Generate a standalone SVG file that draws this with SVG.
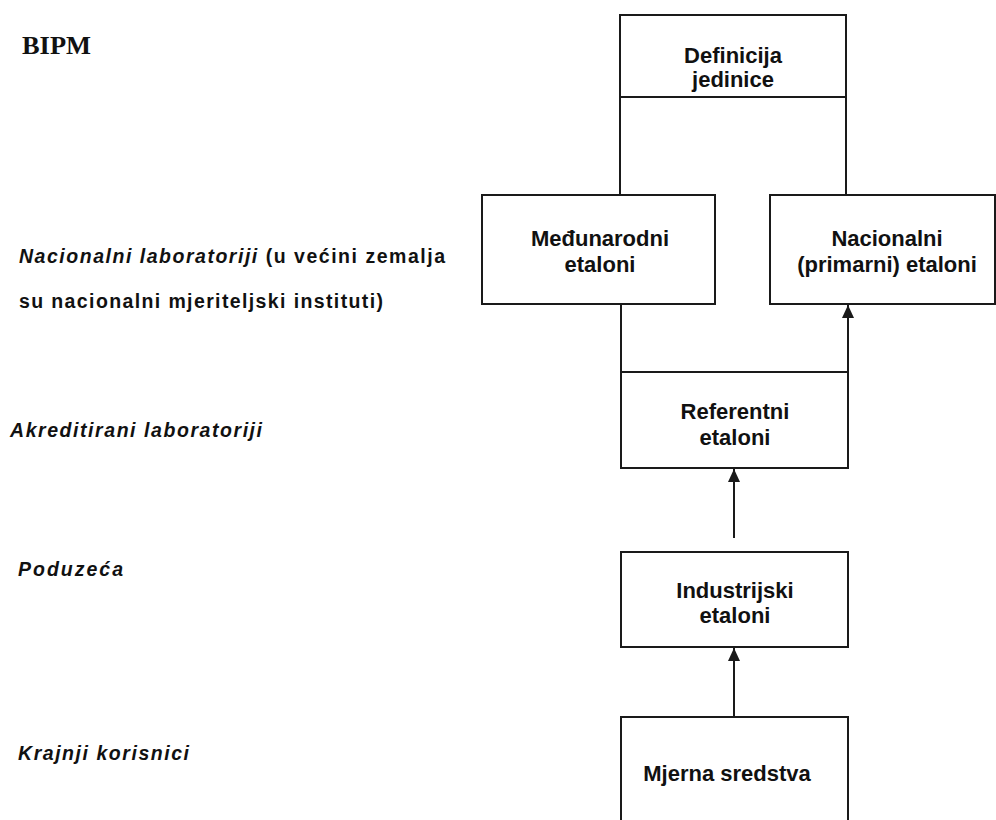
<svg xmlns="http://www.w3.org/2000/svg" width="996" height="820" viewBox="0 0 996 820">
<style>
.box{fill:#fff;stroke:#1a1a1a;stroke-width:2}
.ln{fill:none;stroke:#1a1a1a;stroke-width:2}
.t{font-family:"Liberation Sans",Arial,sans-serif;font-weight:bold;font-size:22px;fill:#111;text-anchor:middle}
.lbl{font-family:"Liberation Sans",Arial,sans-serif;font-weight:bold;font-size:19.5px;fill:#111}
.it{font-style:italic}
</style>
<defs>
<marker id="ah" markerUnits="userSpaceOnUse" markerWidth="13" markerHeight="12" refX="13" refY="6" orient="auto" viewBox="0 0 13 12">
<path d="M0,0 L13,6 L0,12 Z" fill="#1a1a1a"/>
</marker>
</defs>
<rect width="996" height="820" fill="#fff"/>
<g id="labels">
<text x="22" y="54" font-family="'Liberation Serif','Times New Roman',serif" font-weight="bold" font-size="25" fill="#111" textLength="69" lengthAdjust="spacingAndGlyphs">BIPM</text>
<text class="lbl" x="19" y="263" textLength="426" lengthAdjust="spacing"><tspan class="it">Nacionalni laboratoriji</tspan> (u većini zemalja</text>
<text class="lbl" x="19" y="308" textLength="364" lengthAdjust="spacing">su nacionalni mjeriteljski instituti)</text>
<text class="lbl it" x="10" y="437" textLength="252" lengthAdjust="spacing">Akreditirani  laboratoriji</text>
<text class="lbl it" x="18" y="576" textLength="105" lengthAdjust="spacing">Poduzeća</text>
<text class="lbl it" x="18" y="760" textLength="171" lengthAdjust="spacing">Krajnji korisnici</text>
</g>
<g id="connectors">
<path class="ln" d="M620,97 V195"/>
<path class="ln" d="M846,97 V195"/>
<path class="ln" d="M621,304 V372"/>
<path class="ln" d="M848,372 V305" marker-end="url(#ah)"/>
<path class="ln" d="M734,538 V469" marker-end="url(#ah)"/>
<path class="ln" d="M734,717 V648" marker-end="url(#ah)"/>
</g>
<g id="definicija">
<rect class="box" x="620" y="15" width="226" height="82"/>
<text class="t" x="733" y="63">Definicija</text>
<text class="t" x="733" y="87">jedinice</text>
</g>
<g id="medunarodni">
<rect class="box" x="482" y="195" width="233" height="109"/>
<text class="t" x="600" y="246">Međunarodni</text>
<text class="t" x="600" y="272">etaloni</text>
</g>
<g id="nacionalni">
<rect class="box" x="770" y="195" width="225" height="109"/>
<text class="t" x="887" y="246">Nacionalni</text>
<text class="t" x="887" y="272">(primarni) etaloni</text>
</g>
<g id="referentni">
<rect class="box" x="621" y="372" width="227" height="96"/>
<text class="t" x="735" y="419">Referentni</text>
<text class="t" x="735" y="445">etaloni</text>
</g>
<g id="industrijski">
<rect class="box" x="621" y="552" width="227" height="95"/>
<text class="t" x="735" y="598">Industrijski</text>
<text class="t" x="735" y="623">etaloni</text>
</g>
<g id="mjerna">
<rect class="box" x="621" y="717" width="227" height="120"/>
<text class="t" x="727" y="781">Mjerna sredstva</text>
</g>
</svg>
